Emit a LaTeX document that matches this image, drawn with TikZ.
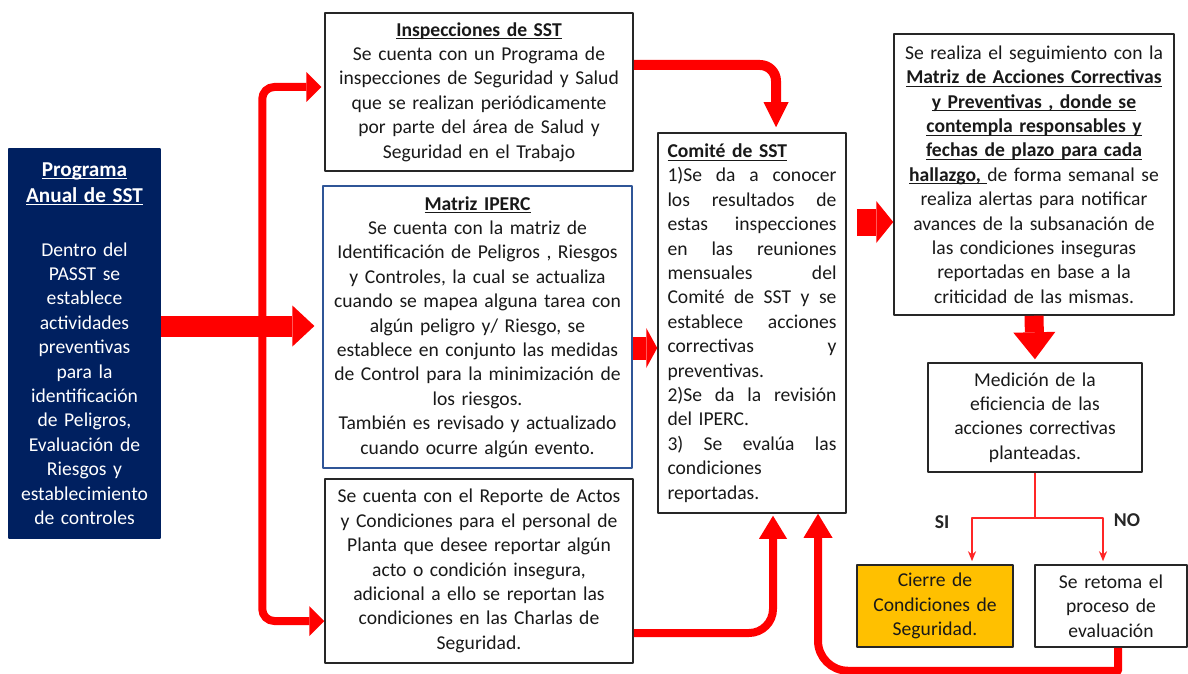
\documentclass[tikz,border=0pt]{standalone}
\usepackage{fontspec}
\setmainfont{Carlito}
\usetikzlibrary{arrows.meta}
\definecolor{navy}{HTML}{002060}
\definecolor{gold}{HTML}{FFC000}
\definecolor{frameblue}{HTML}{2F5597}
\def\comitew{84.5pt}
\newcommand\fillline[1]{\leavevmode\hbox to \comitew{\spaceskip=0.25em plus 1fil\relax #1}}
\newcommand\undl[1]{\leavevmode\setbox0\hbox{#1}\rlap{\rule[-1.6pt]{\wd0}{0.55pt}}\box0}

\begin{document}
\begin{tikzpicture}
  [
    x=0.5pt, y=-0.5pt,
    line join=round,
    box/.style={draw=black!85, line width=0.75pt, inner sep=0pt, align=center,
      text=black!90, font=\fontsize{9.8}{12.2}\selectfont},
    blk/.style n args={3}{draw=red, line width=#1,
      -{Triangle[line width=0pt, length=#2, width=#3]}},
    fork/.style={draw=red!85, line width=1pt},
    lbl/.style={font=\fontsize{9.8}{12.2}\selectfont\bfseries, text=black!85},
  ]
\useasboundingbox (0,0) rectangle (1188,674);
\fill[white] (0,0) rectangle (1188,674);

% boxes
\node[box, draw=navy, fill=navy, text=white, text width=74pt,
  minimum width=75.5pt, minimum height=194.5pt] (prog) at (84.5,343.5)
  {\bfseries\fontsize{10.6}{13}\selectfont \undl{Programa}\\ \undl{Anual de SST}\\[14.8pt]
   \mdseries\fontsize{9.8}{12.2}\selectfont
   Dentro del\\ PASST se\\ establece\\ actividades\\ preventivas\\ para la\\
   identificación\\ de Peligros,\\ Evaluación de\\ Riesgos y\\ establecimiento\\ de controles};

\node[box, text width=152pt, minimum width=154pt, minimum height=79pt] (insp) at (479,92)
  {\textbf{\undl{Inspecciones de SST}}\\ Se cuenta con un Programa de\\
   inspecciones de Seguridad y Salud\\ que se realizan periódicamente\\
   por parte del área de Salud y\\ Seguridad en el Trabajo};

\node[box, draw=frameblue, line width=0.6pt, text width=152pt, minimum width=154.5pt,
  minimum height=141pt] (iperc) at (477.5,327)
  {\textbf{\undl{Matriz IPERC}}\\ Se cuenta con la matriz de\\
   Identificación de Peligros , Riesgos\\ y Controles, la cual se actualiza\\
   cuando se mapea alguna tarea con\\ algún peligro y/ Riesgo, se\\
   establece en conjunto las medidas\\ de Control para la minimización de\\
   los riesgos.\\ También es revisado y actualizado\\ cuando ocurre algún evento.};

\node[box, text width=152pt, minimum width=154pt, minimum height=92pt] (rep) at (479,571)
  {Se cuenta con el Reporte de Actos\\ y Condiciones para el personal de\\
   Planta que desee reportar algún\\ acto o condición insegura,\\
   adicional a ello se reportan las\\ condiciones en las Charlas de\\ Seguridad.};

\node[box, align=left, text width=\comitew, minimum width=94pt, minimum height=190pt]
  (comite) at (752,323)
  {\textbf{\undl{Comité de SST}}\\
   \fillline{1)Se da a conocer}\\ \fillline{los resultados de}\\
   \fillline{estas inspecciones}\\ \fillline{en las reuniones}\\
   \fillline{mensuales del}\\ \fillline{Comité de SST y se}\\
   \fillline{establece acciones}\\ \fillline{correctivas y}\\ preventivas.\\
   \fillline{2)Se da la revisión}\\ del IPERC.\\
   \fillline{3) Se evalúa las}\\ condiciones\\ reportadas.};

\node[box, text width=138pt, minimum width=140pt, minimum height=140.5pt] (seg) at (1034,174.5)
  {Se realiza el seguimiento con la\\
   \textbf{\undl{Matriz de Acciones Correctivas}}\\
   \textbf{\undl{y Preventivas , donde se}}\\
   \textbf{\undl{contempla responsables y}}\\
   \textbf{\undl{fechas de plazo para cada}}\\
   \textbf{\undl{hallazgo,\ }}de forma semanal se\\
   realiza alertas para notificar\\ avances de la subsanación de\\
   las condiciones inseguras\\ reportadas en base a la\\ criticidad de las mismas.};

\node[box, text width=105pt, minimum width=107pt, minimum height=54.5pt] (med) at (1035,417.5)
  {Medición de la\\ eficiencia de las\\ acciones correctivas\\ planteadas.};

\node[box, fill=gold, text width=76pt, minimum width=78pt, minimum height=41pt] (cierre) at (935,606)
  {Cierre de\\ Condiciones de\\ Seguridad.};
\node[box, text width=74pt, minimum width=76pt, minimum height=41pt] (retoma) at (1111,606)
  {Se retoma el\\ proceso de\\ evaluación};

\node[lbl] (si) at (942,522) {SI};
\node[lbl] (no) at (1127,520) {NO};

% red arrows
\draw[blk={10.5pt}{11pt}{20.5pt}, shorten >=4pt]
  ([yshift=8.75pt]prog.east) -- ([yshift=0.5pt]iperc.west);
\draw[draw=red, line width=4pt, rounded corners=6pt, shorten <=1.5pt,
  {Triangle[line width=0pt, length=7.5pt, width=15pt]}-{Triangle[line width=0pt, length=7.5pt, width=15pt]}]
  ([yshift=2.5pt]insp.west) -- ++(-62,0) |- ([yshift=-25pt]rep.west);
\draw[blk={5pt}{12.5pt}{12.5pt}, rounded corners=8pt, shorten >=2.5pt]
  ([yshift=13.5pt]insp.east) -| ([xshift=12pt]comite.north);
\draw[blk={11.5pt}{5.5pt}{20pt}]
  ([yshift=-10.5pt]iperc.east) -- ([yshift=-12.5pt]comite.west);
\draw[blk={13.5pt}{8.5pt}{21pt}, shorten <=5pt]
  ([yshift=50.5pt]comite.east) -- ([yshift=-23.75pt]seg.west);
\draw[blk={9.5pt}{13.5pt}{21pt}, shorten >=1.5pt]
  (seg.south) -- (med.north);
\draw[blk={4pt}{11.5pt}{14pt}, rounded corners=12pt, shorten >=1pt]
  ([yshift=-31pt]rep.east) -| ([xshift=10.5pt]comite.south);
\draw[blk={4pt}{12pt}{14.5pt}]
  ([xshift=3.5pt]retoma.south) -- ++(0,23) [rounded corners=15pt] -| ([xshift=33pt]comite.south);

% SI / NO
\draw[fork] (med.south) -- ++(0,45) coordinate (split);
\draw[fork, -{Stealth[length=5pt, width=4pt]}, shorten >=1.5pt]
  (split) -| ([xshift=18.5pt]cierre.north);
\draw[fork, -{Stealth[length=5pt, width=4pt]}, shorten >=1.5pt]
  (split) -| ([xshift=-4pt]retoma.north);

\end{tikzpicture}
\end{document}
